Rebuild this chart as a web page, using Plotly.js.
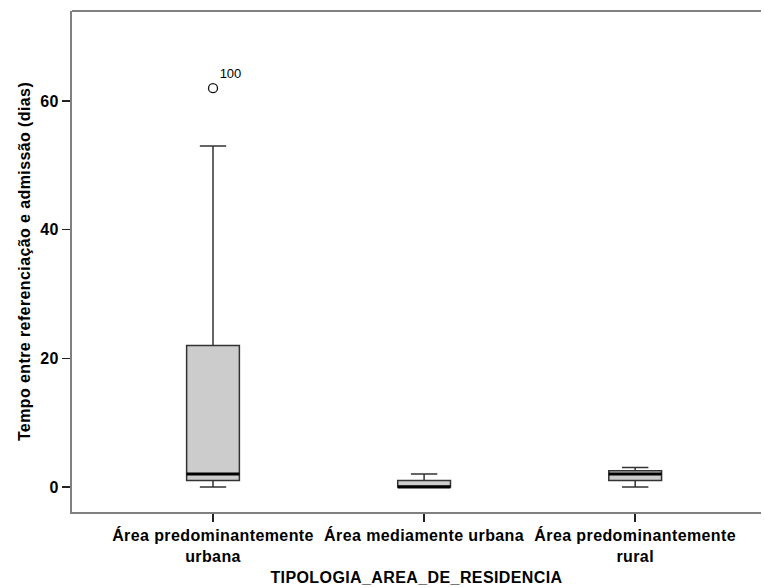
<!DOCTYPE html>
<html>
<head>
<meta charset="utf-8">
<script src="https://cdn.plot.ly/plotly-3.0.1.min.js"></script>
<style>
  html, body { margin: 0; padding: 0; background: #fff; overflow: hidden; }
  #chart { width: 764px; height: 588px; }
  .xtick text, .ytick text, .g-xtitle text, .g-ytitle text { letter-spacing: 0.4px; }
</style>
</head>
<body>
<div id="chart"></div>
<script>
// Residence-area typology and days between referral and admission
const categories = [
  'Área predominantemente<br>urbana',
  'Área mediamente urbana',
  'Área predominantemente<br>rural'
];
const positions = [0, 1, 2];
const lowerWhisker = [0, 0, 0];
const q1 = [1, 0, 1];
const median = [2, 0, 2];
const q3 = [22, 1, 2.5];
const upperWhisker = [53, 2, 3];

// Outlying cases: category index, value, case number
const outlierPos = [0];
const outlierVal = [62];
const outlierCase = ['100'];

const yTicks = [0, 20, 40, 60];

const boxWidth = 0.25;
const family = '"Liberation Sans", Arial, sans-serif';
const boldFont = { family: family, size: 16, color: '#000', weight: 'bold' };

// median drawn as a heavy segment across each box
const medX = [], medY = [];
positions.forEach((p, i) => {
  medX.push(p - boxWidth / 2, p + boxWidth / 2, null);
  medY.push(median[i], median[i], null);
});

const traces = [
  {
    type: 'box',
    x: positions,
    q1: q1,
    median: median,
    q3: q3,
    lowerfence: lowerWhisker,
    upperfence: upperWhisker,
    width: boxWidth,
    whiskerwidth: 0.5,
    fillcolor: '#cccccc',
    line: { color: '#333333', width: 1.5 },
    boxpoints: false,
    hoverinfo: 'skip',
    showlegend: false
  },
  {
    type: 'scatter',
    mode: 'lines',
    x: medX,
    y: medY,
    line: { color: '#000', width: 3 },
    hoverinfo: 'skip',
    showlegend: false
  },
  {
    type: 'scatter',
    mode: 'markers+text',
    x: outlierPos,
    y: outlierVal,
    text: outlierCase,
    textposition: 'top right',
    textfont: { family: family, size: 13, color: '#000' },
    marker: { symbol: 'circle-open', size: 9, color: '#111', line: { width: 1.3, color: '#111' } },
    hoverinfo: 'skip',
    showlegend: false
  }
];

const layout = {
  width: 764,
  height: 588,
  margin: { l: 72, r: 3, t: 11, b: 76 },
  paper_bgcolor: '#fff',
  plot_bgcolor: '#fff',
  showlegend: false,
  font: { family: family, color: '#000' },
  xaxis: {
    range: [-0.668, 2.596],
    tickvals: positions,
    ticktext: categories,
    ticks: 'outside',
    ticklen: 8,
    tickwidth: 1.5,
    tickcolor: '#222',
    showgrid: false,
    zeroline: false,
    showline: true,
    linecolor: '#808080',
    linewidth: 2,
    tickfont: boldFont,
    title: {
      text: 'TIPOLOGIA_AREA_DE_RESIDENCIA',
      font: boldFont,
      standoff: 8
    }
  },
  yaxis: {
    range: [-3.9, 74],
    tickvals: yTicks,
    ticks: 'outside',
    ticklen: 8,
    tickwidth: 1.5,
    tickcolor: '#222',
    showgrid: false,
    zeroline: false,
    showline: true,
    linecolor: '#808080',
    linewidth: 2,
    tickfont: boldFont,
    title: {
      text: 'Tempo entre referenciação e admissão (dias)',
      font: boldFont,
      standoff: 6
    }
  },
  // top edge of the frame
  shapes: [{
    type: 'line', xref: 'paper', yref: 'paper',
    x0: 0, x1: 1, y0: 1, y1: 1,
    line: { color: '#808080', width: 2 }
  }]
};

Plotly.newPlot('chart', traces, layout, { displayModeBar: false, staticPlot: true });
</script>
</body>
</html>
